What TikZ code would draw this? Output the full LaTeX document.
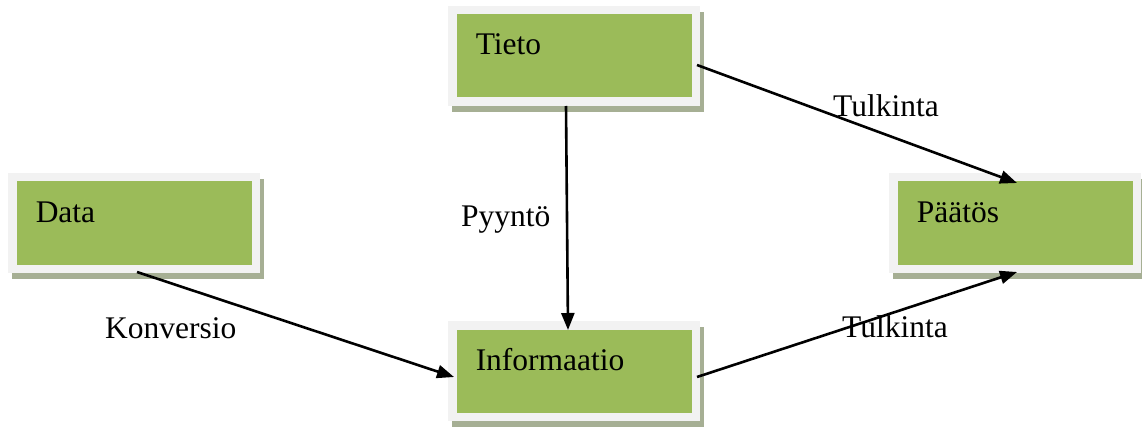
\documentclass[tikz,border=0pt]{standalone}
\usepackage{fontspec}
\setmainfont{Liberation Serif}
\usetikzlibrary{arrows.meta,calc}
\definecolor{boxgreen}{HTML}{9BBB59}
\definecolor{boxrim}{HTML}{F2F2F2}
\definecolor{boxshadow}{HTML}{A6AF94}
\tikzset{
  greenbox/.style={rectangle, fill=boxgreen, draw=boxrim, line width=8.5pt,
    minimum width=243.5pt, minimum height=91.5pt,
    inner xsep=23.5pt, inner ysep=0pt, text width=196.5pt, align=left,
    text height=0pt, text depth=2pt,
    font=\fontsize{31.5}{36}\selectfont,
    preaction={draw=boxshadow, fill=boxshadow, transform canvas={shift={(3.5pt,-6pt)}}}},
  lbl/.style={inner sep=0pt, anchor=base west, font=\fontsize{31.5}{36}\selectfont},
  conn/.style={line width=2.6pt, -{Triangle[length=17pt,width=13pt]}}
}
\begin{document}
\begin{tikzpicture}[x=1pt,y=1pt]
\useasboundingbox (0,0) rectangle (1142,426);
\node[greenbox] (data) at (134,203) {Data};
\node[greenbox] (tieto) at (574,370) {Tieto};
\node[greenbox] (info) at (574,55) {Informaatio};
\node[greenbox] (paatos) at (1015,203) {Päätös};

\draw[conn] ($(data.south)+(3,1)$) -- ($(info.west)+(6,-6)$);
\draw[conn] ($(tieto.south)+(-8,0)$) -- ($(info.north)+(-6,-9)$);
\draw[conn] ($(tieto.east)+(-3,-9)$) -- ($(paatos.north)+(2,-10)$);
\draw[conn] ($(info.east)+(-3,-6)$) -- ($(paatos.south)+(2,1)$);

\node[lbl] (l1) at (833,309) {Tulkinta};
\node[lbl] (l2) at (842,89) {Tulkinta};
\node[lbl] (l3) at (461,200) {Pyyntö};
\node[lbl] (l4) at (105,88) {Konversio};
\end{tikzpicture}
\end{document}
